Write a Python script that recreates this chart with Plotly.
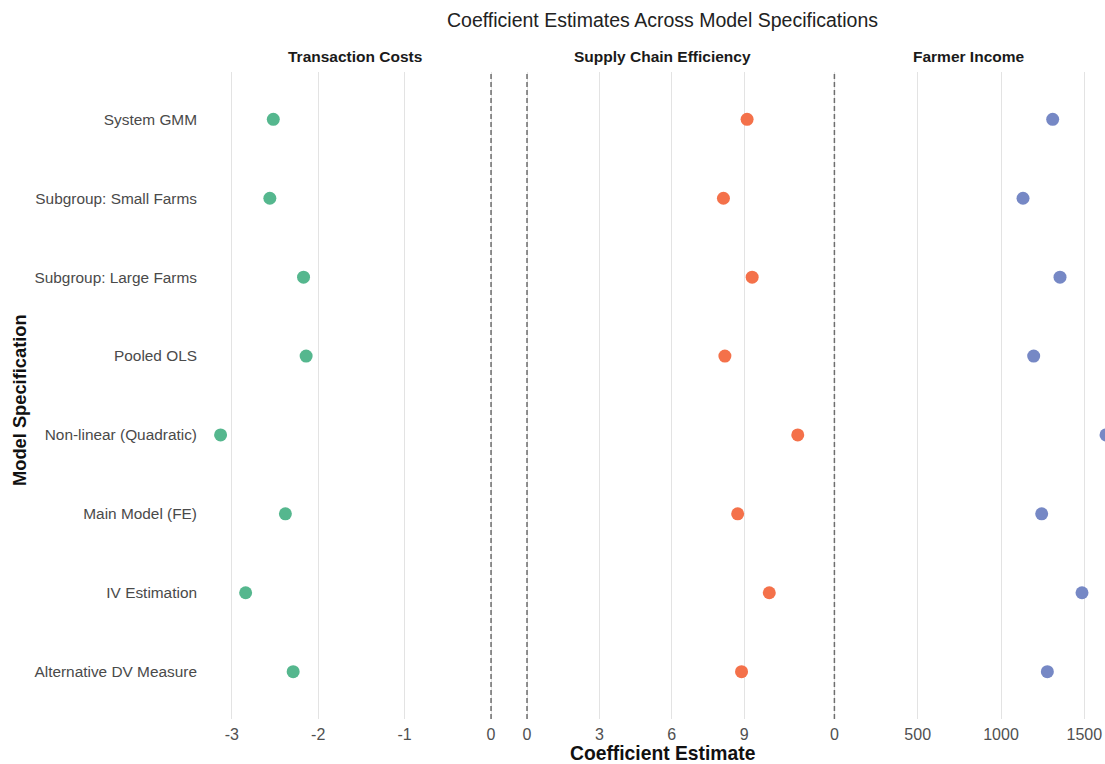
import plotly.graph_objects as go
from plotly.subplots import make_subplots

# Model specifications, listed top to bottom
specs = [
    "System GMM",
    "Subgroup: Small Farms",
    "Subgroup: Large Farms",
    "Pooled OLS",
    "Non-linear (Quadratic)",
    "Main Model (FE)",
    "IV Estimation",
    "Alternative DV Measure",
]

# Coefficient estimates for each outcome
transaction_costs = [-2.52, -2.56, -2.17, -2.14, -3.13, -2.38, -2.84, -2.29]
supply_chain_eff = [9.12, 8.14, 9.33, 8.20, 11.22, 8.73, 10.04, 8.89]
farmer_income = [1310, 1132, 1354, 1196, 1630, 1244, 1486, 1278]

# Tick positions and labels per panel
tc_ticks = [-3, -2, -1, 0]
tc_labels = ["-3", "-2", "-1", "0"]
sc_ticks = [0, 3, 6, 9]
sc_labels = ["0", "3", "6", "9"]
fi_ticks = [0, 500, 1000, 1500]
fi_labels = ["0", "500", "1000", "1500"]

outcomes = ["Transaction Costs", "Supply Chain Efficiency", "Farmer Income"]
values = [transaction_costs, supply_chain_eff, farmer_income]
tickvals = [tc_ticks, sc_ticks, fi_ticks]
ticktexts = [tc_labels, sc_labels, fi_labels]
colors = ["#55b78e", "#f4714a", "#7688c5"]
x_ranges = [[-3.322, 0.150], [-0.539, 11.81], [-80.4, 1624]]

FONT = "Liberation Sans, Arial, sans-serif"
W, H = 1105, 764
ML, MR, MT, MB = 204, 0, 72, 45
plot_w = W - ML - MR
plot_h = H - MT - MB


def px_x(p):
    return (p - ML) / plot_w


def px_y(p):
    return (H - MB - p) / plot_h


domains = [
    [px_x(204), px_x(504)],
    [px_x(514), px_x(812)],
    [px_x(821), 1.0],
]

fig = make_subplots(rows=1, cols=3, shared_yaxes=True)

for i, (name, vals, col) in enumerate(zip(outcomes, values, colors), start=1):
    fig.add_trace(
        go.Scatter(
            x=vals,
            y=specs,
            mode="markers",
            marker=dict(size=13, color=col, line=dict(width=0)),
            name=name,
            showlegend=False,
        ),
        row=1,
        col=i,
    )
    fig.add_vline(
        x=0,
        line=dict(color="#6e6e6e", width=1.5, dash="5px,3px"),
        row=1,
        col=i,
    )
    fig.update_xaxes(
        domain=domains[i - 1],
        range=x_ranges[i - 1],
        tickmode="array",
        tickvals=tickvals[i - 1],
        ticktext=ticktexts[i - 1],
        showgrid=True,
        gridcolor="#e3e3e3",
        gridwidth=1,
        zeroline=False,
        showline=False,
        ticks="",
        ticklabelstandoff=4,
        tickfont=dict(family=FONT, size=16, color="#505050"),
        row=1,
        col=i,
    )

fig.update_yaxes(
    type="category",
    categoryorder="array",
    categoryarray=list(reversed(specs)),
    range=[-0.6, 7.6],
    showgrid=False,
    zeroline=False,
    showline=False,
    ticks="",
    ticklabelstandoff=6,
    tickfont=dict(family=FONT, size=15.4, color="#4a4a4a"),
)

annotations = [
    dict(
        text="Coefficient Estimates Across Model Specifications",
        x=px_x(662), y=px_y(20), xref="paper", yref="paper",
        showarrow=False, xanchor="center", yanchor="middle",
        font=dict(family=FONT, size=19.5, color="#222222"),
    ),
    dict(
        text="<b>Coefficient Estimate</b>",
        x=px_x(663), y=px_y(753), xref="paper", yref="paper",
        showarrow=False, xanchor="center", yanchor="middle",
        font=dict(family=FONT, size=19.3, color="#111111"),
    ),
    dict(
        text="<b>Model Specification</b>",
        x=px_x(19), y=px_y(400), xref="paper", yref="paper",
        showarrow=False, xanchor="center", yanchor="middle", textangle=-90,
        font=dict(family=FONT, size=18.3, color="#111111"),
    ),
]

strip_centers = [px_x(355), px_x(662), px_x(969)]
for name, cx in zip(outcomes, strip_centers):
    annotations.append(
        dict(
            text=f"<b>{name}</b>",
            x=cx, y=px_y(57), xref="paper", yref="paper",
            showarrow=False, xanchor="center", yanchor="middle",
            font=dict(family=FONT, size=15.5, color="#1a1a1a"),
        )
    )

fig.update_layout(
    width=W,
    height=H,
    margin=dict(l=ML, r=MR, t=MT, b=MB),
    paper_bgcolor="white",
    plot_bgcolor="white",
    font=dict(family=FONT),
    annotations=annotations,
    showlegend=False,
)

fig.write_html("out.html")
